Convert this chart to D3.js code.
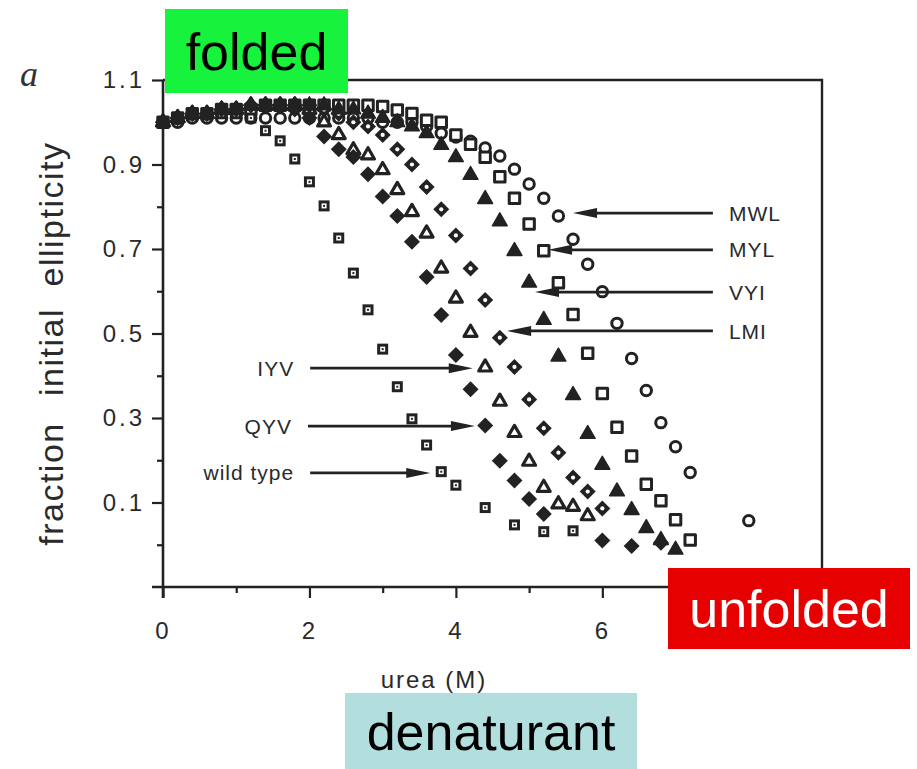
<!DOCTYPE html>
<html>
<head>
<meta charset="utf-8">
<script src="https://cdn.jsdelivr.net/npm/d3@7"></script>
<style>
  body { margin: 0; background: #fff; }
  svg { display: block; font-family: "Liberation Sans", Arial, sans-serif; }
</style>
</head>
<body>
<div id="chart-area"></div>
<script>
// urea concentration (M), one reading every 0.2 M
const urea = [0, 0.2, 0.4, 0.6, 0.8, 1.0, 1.2, 1.4, 1.6, 1.8,
    2.0, 2.2, 2.4, 2.6, 2.8, 3.0, 3.2, 3.4, 3.6, 3.8,
    4.0, 4.2, 4.4, 4.6, 4.8, 5.0, 5.2, 5.4, 5.6, 5.8,
    6.0, 6.2, 6.4, 6.6, 6.8, 7.0, 7.2, 7.4, 7.6, 7.8, 8.0];

// fraction initial ellipticity per variant (null = no point)
const wildType = [1.00, 1.01, 1.02, 1.02, 1.02, 1.02, 1.01,
    0.980, 0.956, 0.913, 0.859, 0.802, 0.726, 0.643, 0.556, 0.463, 0.374, 0.298, 0.236, 0.173, 0.141,
    null, 0.088, null, 0.047, null, 0.031, null, 0.033,
    null, null, null, null, null, null, null, null, null, null, null, null];
const qyv = [1.00, 1.01, 1.02, 1.02, 1.03, 1.03, 1.04, 1.04, 1.04, 1.03, 1.01,
    0.966, 0.936, 0.918, 0.877, 0.824, 0.778, 0.717, 0.634, 0.544, 0.449, 0.368, 0.282, 0.199, 0.152, 0.108, 0.073,
    null, null, null,
    0.010, null, -0.003, null, 0.005,
    null, null, null, null, null, null];
const iyv = [1.00, 1.01, 1.02, 1.02, 1.03, 1.03, 1.04, 1.04, 1.04, 1.04, 1.03, 1.00,
    0.970, 0.934, 0.922, 0.887, 0.840, 0.788, 0.737, 0.654, 0.583, 0.502, 0.420, 0.339, 0.265, 0.197, 0.135, 0.096, 0.090, 0.068,
    null, null, null, null, null, null, null, null, null, null, null];
const lmi = [1.00, 1.01, 1.02, 1.02, 1.03, 1.03, 1.04, 1.04, 1.04, 1.04, 1.04, 1.03, 1.02, 1.00, 0.99,
    0.970, 0.936, 0.900, 0.847, 0.794, 0.732, 0.654, 0.579, 0.490, 0.421, 0.344, 0.276, 0.218, 0.159, 0.126, 0.086,
    null, null, null, null, null, null, null, null, null, null];
const vyi = [1.00, 1.01, 1.02, 1.02, 1.03, 1.03, 1.04, 1.04, 1.04, 1.04, 1.04, 1.04, 1.03, 1.03, 1.02, 1.01, 1.00, 0.99,
    0.974, 0.946, 0.917, 0.875, 0.818, 0.765, 0.695, 0.620, 0.532, 0.445, 0.354, 0.262, 0.189, 0.126, 0.082, 0.039,
    0.011, -0.012,
    null, null, null, null, null];
const myl = [1.00, 1.01, 1.02, 1.02, 1.03, 1.03, 1.03, 1.04, 1.04, 1.04, 1.04, 1.04, 1.04, 1.04, 1.04,
    1.037, 1.029, 1.021, 1.005, 1.000, 0.970, 0.948, 0.917, 0.871, 0.820, 0.759, 0.696, 0.620, 0.545, 0.453,
    0.358, 0.278, 0.210, 0.143, 0.104, 0.059, 0.011,
    null, null, null, null];
const mwl = [1.00, 1.00, 1.01, 1.01, 1.01, 1.01, 1.01, 1.01, 1.01, 1.01, 1.01, 1.01, 1.01, 1.01, 1.01, 1.00, 1.00, 1.00, 0.99,
    0.974, 0.965, 0.955, 0.939, 0.920, 0.889, 0.854, 0.820, 0.778, 0.723, 0.664, 0.599, 0.524, 0.441, 0.365, 0.289, 0.232, 0.171,
    null, null, null, 0.057];

// axis ticks (the tick at 8 M sits under the "unfolded" box, so it carries no label)
const yMajorTicks = [0.1, 0.3, 0.5, 0.7, 0.9, 1.1];
const yMinorTicks = [0.0, 0.2, 0.4, 0.6, 0.8, 1.0];
const xMajorTicks = [0, 2, 4, 6];
const xMinorTicks = [1, 3, 5, 7, 8];

// arrow annotations (in data units)
const arrowLabels = ["MWL", "MYL", "VYI", "LMI", "IYV", "QYV", "wild type"];
const arrowTipUrea = [5.60, 5.26, 5.08, 4.70, 4.23, 4.26, 3.65];
const arrowTailUrea = [7.51, 7.51, 7.51, 7.51, 2.01, 1.98, 2.01];
const arrowFraction = [0.785, 0.698, 0.598, 0.506, 0.418, 0.281, 0.170];

const width = 917, height = 769;
const ink = "#222";

const svg = d3.select("#chart-area").append("svg")
    .attr("width", width)
    .attr("height", height);

const x = d3.scaleLinear().domain([0, 9]).range([163, 822]);
const y = d3.scaleLinear().domain([-0.1, 1.1]).range([587, 80]);

/********************************************/
// Axes _____________________________________/
/********************************************/

function styleAxis(g) {
    g.select(".domain").remove();
    g.selectAll(".tick line").attr("stroke", ink).attr("stroke-width", 2.2);
    g.selectAll(".tick text")
        .attr("fill", "#2a2a2a")
        .attr("font-size", 24)
        .attr("font-family", "'Liberation Sans', Arial, sans-serif")
        .attr("letter-spacing", 3);
}

svg.append("g")
    .attr("transform", "translate(" + x(0) + ",0)")
    .call(d3.axisLeft(y).tickValues(yMajorTicks).tickFormat(d3.format(".1f")).tickSize(11).tickPadding(7))
    .call(styleAxis);
svg.append("g")
    .attr("transform", "translate(" + x(0) + ",0)")
    .call(d3.axisLeft(y).tickValues(yMinorTicks).tickFormat("").tickSize(6))
    .call(styleAxis);

svg.append("g")
    .attr("transform", "translate(0," + y(-0.1) + ")")
    .call(d3.axisBottom(x).tickValues(xMajorTicks).tickFormat(d3.format("d")).tickSize(11).tickPadding(24))
    .call(styleAxis);
svg.append("g")
    .attr("transform", "translate(0," + y(-0.1) + ")")
    .call(d3.axisBottom(x).tickValues(xMinorTicks).tickFormat("").tickSize(6))
    .call(styleAxis);

// frame
svg.append("path")
    .attr("d", "M" + x(0) + "," + y(1.1) + "H" + x(9) + "V" + y(-0.1))
    .attr("fill", "none").attr("stroke", ink).attr("stroke-width", 2.4);
svg.append("line")
    .attr("x1", x(0)).attr("x2", x(0))
    .attr("y1", y(1.1)).attr("y2", y(-0.1) + 11)
    .attr("stroke", ink).attr("stroke-width", 2.6);
svg.append("line")
    .attr("x1", x(0) - 11).attr("x2", x(9))
    .attr("y1", y(-0.1)).attr("y2", y(-0.1))
    .attr("stroke", ink).attr("stroke-width", 2.6);

// axis titles
svg.append("text")
    .attr("x", 434).attr("y", 688)
    .attr("text-anchor", "middle")
    .attr("font-size", 24).attr("letter-spacing", 2)
    .attr("fill", "#2a2a2a")
    .text("urea (M)");

const yWords = [["ellipticity", 214], ["initial", 352], ["fraction", 484]];
svg.selectAll(".ylab")
    .data(yWords)
    .join("text")
    .attr("class", "ylab")
    .attr("transform", (d) => "translate(63," + d[1] + ") rotate(-90)")
    .attr("text-anchor", "middle")
    .attr("font-size", 34).attr("letter-spacing", 1.5)
    .attr("fill", "#2a2a2a")
    .text((d) => d[0]);

svg.append("text")
    .attr("x", 20).attr("y", 86)
    .attr("font-family", "'Liberation Serif', 'Times New Roman', serif")
    .attr("font-style", "italic")
    .attr("font-size", 36)
    .attr("fill", "#333")
    .text("a");

/********************************************/
// Markers __________________________________/
/********************************************/

const diamond = {
    draw(ctx, size) {
        const r = Math.sqrt(size / 2);
        ctx.moveTo(0, -r); ctx.lineTo(r, 0); ctx.lineTo(0, r); ctx.lineTo(-r, 0); ctx.closePath();
    }
};
const sym = (type, size) => d3.symbol().type(type).size(size)();

function points(values) {
    return urea.map((u, i) => ({ u: u, v: values[i] })).filter((d) => d.v !== null);
}

function drawSeries(values, layers) {
    const g = svg.append("g");
    layers.forEach((l) => {
        g.append("g").selectAll("path")
            .data(points(values))
            .join("path")
            .attr("transform", (d) => "translate(" + x(d.u) + "," + y(d.v) + ")")
            .attr("d", sym(l.type, l.size))
            .attr("fill", l.fill)
            .attr("stroke", l.stroke || "none")
            .attr("stroke-width", l.sw || 0)
            .attr("stroke-linejoin", "round");
    });
}

// open symbols underneath, filled ones on top (the plateau reads as a dark band)
// MWL: open circle
drawSeries(mwl, [{ type: d3.symbolCircle, size: 85, fill: "#fff", stroke: ink, sw: 3 }]);
// MYL: open square
drawSeries(myl, [{ type: d3.symbolSquare, size: 110, fill: "#fff", stroke: ink, sw: 3 }]);
// IYV: open triangle
drawSeries(iyv, [{ type: d3.symbolTriangle, size: 72, fill: "#fff", stroke: ink, sw: 3.2 }]);
// LMI: open diamond
drawSeries(lmi, [
    { type: diamond, size: 128, fill: ink },
    { type: d3.symbolCircle, size: 14, fill: "#fff" }
]);
// wild type: dotted square
drawSeries(wildType, [
    { type: d3.symbolSquare, size: 121, fill: ink },
    { type: d3.symbolSquare, size: 25, fill: "#fff" },
    { type: d3.symbolSquare, size: 4, fill: ink }
]);
// VYI: filled triangle
drawSeries(vyi, [{ type: d3.symbolTriangle, size: 95, fill: ink, stroke: ink, sw: 1.5 }]);
// QYV: filled diamond
drawSeries(qyv, [{ type: diamond, size: 128, fill: ink }]);

/********************************************/
// Arrows ___________________________________/
/********************************************/

arrowLabels.forEach((label, i) => {
    const tip = x(arrowTipUrea[i]), tail = x(arrowTailUrea[i]), yy = y(arrowFraction[i]);
    const dir = tail > tip ? 1 : -1;
    svg.append("line")
        .attr("x1", tail).attr("x2", tip + dir * 12)
        .attr("y1", yy).attr("y2", yy)
        .attr("stroke", ink).attr("stroke-width", 2.8);
    svg.append("path")
        .attr("d", "M" + tip + "," + yy + "L" + (tip + dir * 24) + "," + (yy - 5) +
            "L" + (tip + dir * 24) + "," + (yy + 5) + "Z")
        .attr("fill", ink);
    svg.append("text")
        .attr("x", tail + dir * 16)
        .attr("y", yy)
        .attr("dy", "0.36em")
        .attr("text-anchor", dir > 0 ? "start" : "end")
        .attr("font-size", 21).attr("letter-spacing", 1)
        .attr("fill", "#2a2a2a")
        .text(label);
});

/********************************************/
// Highlight boxes __________________________/
/********************************************/

const boxes = [
    { text: "folded", x: 165, y: 9, w: 183, h: 84, fill: "#17f23d", color: "#000" },
    { text: "unfolded", x: 668, y: 568, w: 242, h: 81, fill: "#e60000", color: "#fff" },
    { text: "denaturant", x: 345, y: 693, w: 292, h: 76, fill: "#b3dede", color: "#000" }
];
boxes.forEach((b) => {
    svg.append("rect")
        .attr("x", b.x).attr("y", b.y).attr("width", b.w).attr("height", b.h)
        .attr("fill", b.fill);
    svg.append("text")
        .attr("x", b.x + b.w / 2)
        .attr("y", b.y + b.h / 2)
        .attr("dy", "0.36em")
        .attr("text-anchor", "middle")
        .attr("font-size", 52)
        .attr("fill", b.color)
        .text(b.text);
});
</script>
</body>
</html>
